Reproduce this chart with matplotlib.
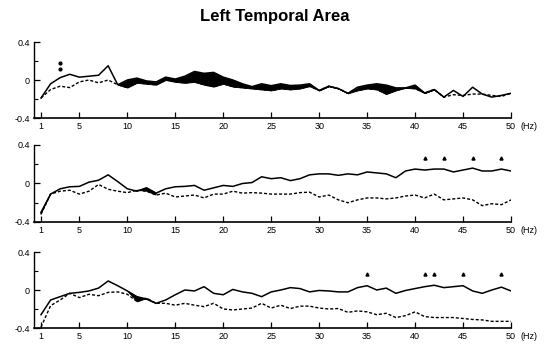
import numpy as np
import matplotlib
matplotlib.use("Agg")
import matplotlib.pyplot as plt

plt.rcParams["font.family"] = ["Liberation Sans", "DejaVu Sans"]

freqs = np.arange(1, 51)

solid1 = [-0.19, -0.04, 0.025, 0.06, 0.03, 0.04, 0.05, 0.15, -0.05, 0.0,
          0.02, -0.01, -0.02, 0.03, 0.01, 0.04, 0.09, 0.07, 0.08, 0.03,
          0.0, -0.04, -0.07, -0.04, -0.06, -0.04, -0.058, -0.054, -0.04, -0.11,
          -0.065, -0.09, -0.14, -0.076, -0.054, -0.04, -0.054, -0.083, -0.083, -0.054,
          -0.137, -0.10, -0.18, -0.11, -0.173, -0.076, -0.148, -0.18, -0.162, -0.14]
dashed1 = [-0.19, -0.10, -0.065, -0.08, -0.02, 0.0, -0.03, 0.0, -0.05, -0.08,
           -0.03, -0.04, -0.05, 0.0, -0.02, -0.03, -0.02, -0.05, -0.07, -0.04,
           -0.07, -0.08, -0.09, -0.10, -0.11, -0.09, -0.10, -0.09, -0.065, -0.11,
           -0.065, -0.09, -0.14, -0.11, -0.09, -0.10, -0.148, -0.11, -0.083, -0.09,
           -0.137, -0.10, -0.18, -0.155, -0.162, -0.148, -0.148, -0.162, -0.173, -0.14]

solid2 = [-0.30, -0.11, -0.055, -0.034, -0.03, 0.014, 0.034, 0.09, 0.02, -0.055,
          -0.08, -0.045, -0.10, -0.055, -0.034, -0.03, -0.02, -0.07, -0.045, -0.02,
          -0.03, 0.0, 0.01, 0.07, 0.05, 0.06, 0.03, 0.05, 0.09, 0.10,
          0.10, 0.085, 0.10, 0.09, 0.12, 0.11, 0.10, 0.06, 0.13, 0.15,
          0.14, 0.15, 0.15, 0.12, 0.14, 0.16, 0.13, 0.13, 0.15, 0.13]
dashed2 = [-0.32, -0.11, -0.08, -0.07, -0.11, -0.08, -0.01, -0.06, -0.08, -0.095,
           -0.07, -0.08, -0.12, -0.10, -0.14, -0.13, -0.12, -0.15, -0.11, -0.11,
           -0.08, -0.10, -0.095, -0.10, -0.11, -0.11, -0.11, -0.095, -0.09, -0.14,
           -0.12, -0.17, -0.20, -0.17, -0.15, -0.15, -0.16, -0.15, -0.13, -0.12,
           -0.15, -0.11, -0.17, -0.16, -0.15, -0.17, -0.23, -0.21, -0.22, -0.17]

solid3 = [-0.26, -0.105, -0.07, -0.035, -0.025, -0.01, 0.02, 0.095, 0.045, -0.01,
          -0.07, -0.095, -0.14, -0.105, -0.05, 0.0, -0.01, 0.035, -0.035, -0.05,
          0.006, -0.02, -0.035, -0.07, -0.02, 0.0, 0.025, 0.015, -0.02, -0.005,
          -0.01, -0.02, -0.02, 0.025, 0.045, 0.0, 0.02, -0.035, -0.005, 0.015,
          0.035, 0.05, 0.025, 0.035, 0.045, -0.01, -0.035, 0.0, 0.03, -0.01]
dashed3 = [-0.39, -0.165, -0.105, -0.035, -0.08, -0.045, -0.06, -0.025, -0.02, -0.045,
           -0.12, -0.085, -0.14, -0.14, -0.16, -0.14, -0.16, -0.175, -0.14, -0.20,
           -0.21, -0.20, -0.19, -0.14, -0.19, -0.16, -0.195, -0.17, -0.17, -0.19,
           -0.20, -0.195, -0.235, -0.22, -0.23, -0.26, -0.245, -0.29, -0.27, -0.23,
           -0.28, -0.29, -0.29, -0.29, -0.30, -0.31, -0.315, -0.33, -0.33, -0.33]

# black bands between the curves (Hz ranges)
fill1 = [(9, 43)]
fill2 = [(1, 2), (11, 13)]
fill3 = [(11, 12.5)]

# significance marks
star_hz = [3, 3]
star_y = [0.18, 0.12]
sig2_hz = [41, 43, 46, 49]
sig2_y = 0.27
sig3_hz = [35, 41, 42, 45, 49]
sig3_y = 0.17

panels = [
    (solid1, dashed1, fill1, 42, 118),
    (solid2, dashed2, fill2, 145, 222),
    (solid3, dashed3, fill3, 252, 328),
]

W, H = 545, 346
fig = plt.figure(figsize=(W / 100, H / 100), dpi=100)
fig.text(0.505, 1 - 17 / H, "Left Temporal Area", ha="center", va="center",
         fontsize=12, fontweight="bold")

axes = []
for solid, dashed, fills, top, bot in panels:
    ax = fig.add_axes([34 / W, 1 - bot / H, (511 - 34) / W, (bot - top) / H])
    ax.set_xlim(0.27, 50)
    ax.set_ylim(-0.4, 0.4)
    s = np.array(solid)
    d = np.array(dashed)
    mask = np.zeros(len(freqs), dtype=bool)
    for a, b in fills:
        mask |= (freqs >= a) & (freqs <= b)
    ax.fill_between(freqs, s, d, where=mask, color="black", linewidth=0.6,
                    interpolate=True)
    ax.plot(freqs, s, color="black", lw=1.1)
    ax.plot(freqs, d, color="black", lw=1.0, dashes=(2.2, 1.4))

    for side in ["top", "right"]:
        ax.spines[side].set_visible(False)
    ax.spines["left"].set_bounds(-0.4, 0.4)
    ax.spines["left"].set_linewidth(1.0)
    ax.spines["bottom"].set_linewidth(1.2)
    ax.set_yticks([-0.4, 0, 0.4])
    ax.set_yticklabels(["-0.4", "0", "0.4"])
    ax.set_yticks([-0.2, 0.2], minor=True)
    ax.set_xticks([1, 5, 10, 15, 20, 25, 30, 35, 40, 45, 50])
    ax.tick_params(direction="in", length=4, width=0.9, labelsize=6.5, pad=3)
    ax.tick_params(which="minor", direction="in", length=3, width=0.8)
    ax.annotate("(Hz)", xy=(50, 0), xycoords=("data", "axes fraction"),
                xytext=(7, -3), textcoords="offset points", ha="left", va="top",
                fontsize=6.5)
    axes.append(ax)

axes[0].plot(star_hz, star_y, "o", color="black", ms=2)
axes[1].plot(sig2_hz, [sig2_y] * len(sig2_hz), "^", color="black", ms=2.2)
axes[2].plot(sig3_hz, [sig3_y] * len(sig3_hz), "^", color="black", ms=2.2)

fig.savefig("out.png", dpi=100)
